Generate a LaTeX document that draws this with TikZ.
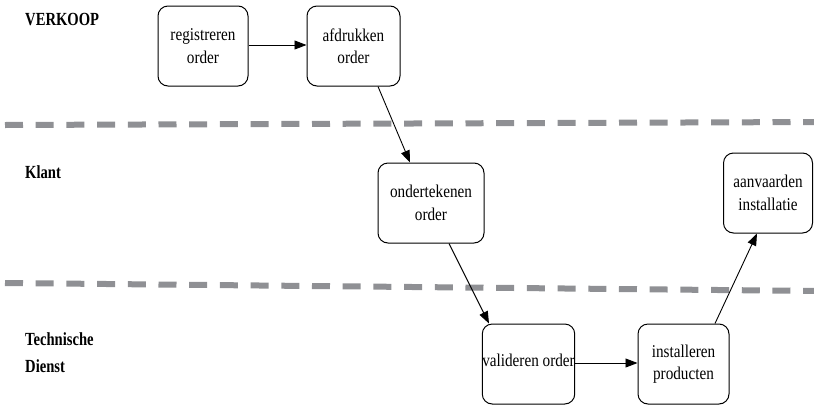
\documentclass[tikz,border=0pt]{standalone}
\usepackage{fontspec}
\setmainfont{Liberation Serif}
\newfontfamily\boxfont[FakeStretch=0.845]{Liberation Serif}
\newfontfamily\lanefont[FakeStretch=0.79]{Liberation Serif}
\usetikzlibrary{arrows.meta}
\definecolor{lanegray}{HTML}{8F9094}
\tikzset{
  act/.style={draw, line width=1pt, rounded corners=10pt, align=center,
    inner sep=0pt, font=\boxfont\fontsize{18}{22.5}\selectfont},
  flow/.style={line width=0.9pt, -{Triangle[length=12pt,width=9pt]}},
  lane/.style={draw=lanegray, line width=6pt, dash pattern=on 18pt off 12.7pt},
  lanelabel/.style={anchor=west, align=left, inner sep=0pt,
    font=\lanefont\bfseries\fontsize{18.5}{27}\selectfont}
}
\begin{document}
\begin{tikzpicture}[x=1pt,y=-1pt]
\useasboundingbox (0,0) rectangle (814,405);

% swimlane separators
\coordinate (l1a) at (5,125);
\coordinate (l1b) at (820,122);
\coordinate (l2a) at (5,283);
\coordinate (l2b) at (820,291);
\draw[lane] (l1a) -- (l1b);
\draw[lane] (l2a) -- (l2b);

% lane titles
\node[lanelabel] (verkoop) at (25,20) {VERKOOP};
\node[lanelabel] (klant) at (25,172) {Klant};
\node[lanelabel] (techn) at (25,353) {Technische\\Dienst};

% activities
\node[act, minimum width=90pt, minimum height=80pt] (reg) at (203,46) {registreren\\order};
\node[act, minimum width=93pt, minimum height=80pt] (afdr) at (353.5,46) {afdrukken\\order};
\node[act, minimum width=106pt, minimum height=80pt] (ond) at (431,203) {ondertekenen\\order};
\node[act, minimum width=89pt, minimum height=80pt] (aanv) at (768,193) {aanvaarden\\installatie};
\node[act, minimum width=91pt, minimum height=80pt] (val) at (528.5,364) {\raisebox{7pt}{valideren order}};
\node[act, minimum width=91pt, minimum height=80pt] (inst) at (683.5,364) {installeren\\producten};

% control flow
\draw[flow] (reg.east |- 0,45) -- (afdr.west |- 0,45);
\draw[flow] ([xshift=24.5pt]afdr.south) -- ([xshift=-21pt]ond.north);
\draw[flow] ([xshift=18pt]ond.south) -- ([xshift=-39.5pt]val.north);
\draw[flow] (val.east |- 0,363) -- (inst.west |- 0,363);
\draw[flow] ([xshift=31.5pt]inst.north) -- ([xshift=-11pt]aanv.south);
\end{tikzpicture}
\end{document}
